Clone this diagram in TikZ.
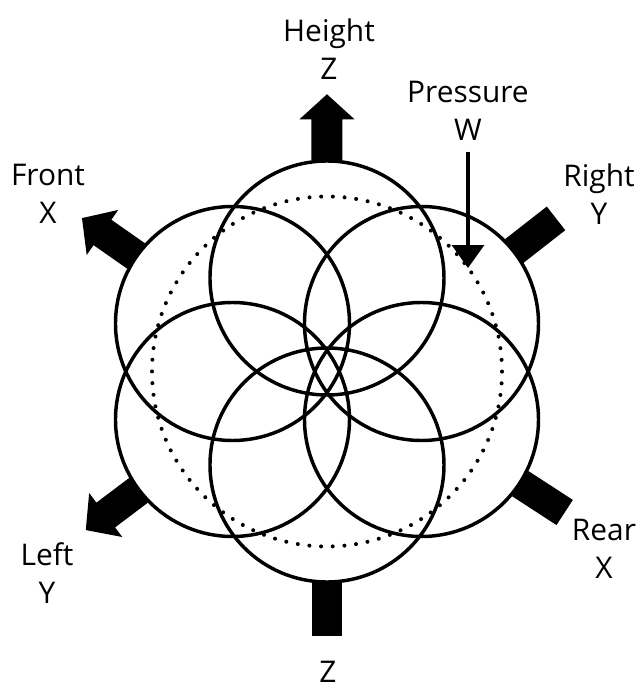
\documentclass[tikz,border=0pt]{standalone}
\usepackage{fontspec}
\setmainfont{Open Sans}
\usepackage{tikz}
\usetikzlibrary{arrows.meta}

\tikzset{
  petal/.style={draw, circle, line width=2.6pt, minimum size=175.5pt, inner sep=0pt},
  ring/.style={draw, circle, line width=3pt, line cap=round, dash pattern=on 0pt off 8.773pt, minimum size=262.5pt, inner sep=0pt},
  axislabel/.style={font=\fontsize{22.4}{28.5}\selectfont, align=center, anchor=north, inner sep=0pt},
  fatarrow/.pic={\fill (-1,-15.5) -- (40,-15.5) -- (40,-27.5) -- (65,0) -- (40,27.5) -- (40,15.5) -- (-1,15.5) -- cycle;},
  fatbar/.pic={\fill (-1,-15) rectangle (52,15);}
}

\begin{document}
\begin{tikzpicture}[>=Stealth, x=0.75pt, y=0.75pt]
    \useasboundingbox (-327,-318.5) rectangle (315,371.5);

    % Six overlapping circles
    \node[petal] (ctop) at (0,93.5) {};
    \node[petal] (cbot) at (0,-93.5) {};
    \node[petal] (cul) at (-94.5,48) {};
    \node[petal] (cur) at (94.5,48) {};
    \node[petal] (cll) at (-94.5,-48) {};
    \node[petal] (clr) at (94.5,-48) {};

    % Dotted ring
    \node[ring] (dots) at (0,0) {};

    % Axis arrows and bars
    \pic[rotate=90] at (ctop.90) {fatarrow};
    \pic[rotate=145] at (cul.145) {fatarrow};
    \pic[rotate=217] at (cll.217) {fatarrow};
    \pic[rotate=38] at (cur.38) {fatbar};
    \pic[rotate=-33] at (clr.-33) {fatbar};
    \pic[rotate=-90] at (cbot.-90) {fatbar};

    % Labels
    \node[axislabel] (lblheight) at (2,352.5) {Height\\Z};
    \node[axislabel] (lblpressure) at (141,290.5) {Pressure\\W};
    \node[axislabel] (lblfront) at (-279,207.5) {Front\\X};
    \node[axislabel] (lblright) at (272,207.5) {Right\\Y};
    \node[axislabel] (lblleft) at (-280,-170.5) {Left\\Y};
    \node[axislabel] (lblrear) at (277,-147.5) {Rear\\X};
    \node[axislabel] (lblbottom) at (1,-289) {Z};

    % Pressure arrow
    \coordinate (wtip) at (141,103.5);
    \draw[line width=2.6pt, -{Triangle[length=17.25pt,width=24pt]}, shorten <=8pt] (lblpressure.south) -- (wtip);
\end{tikzpicture}
\end{document}
